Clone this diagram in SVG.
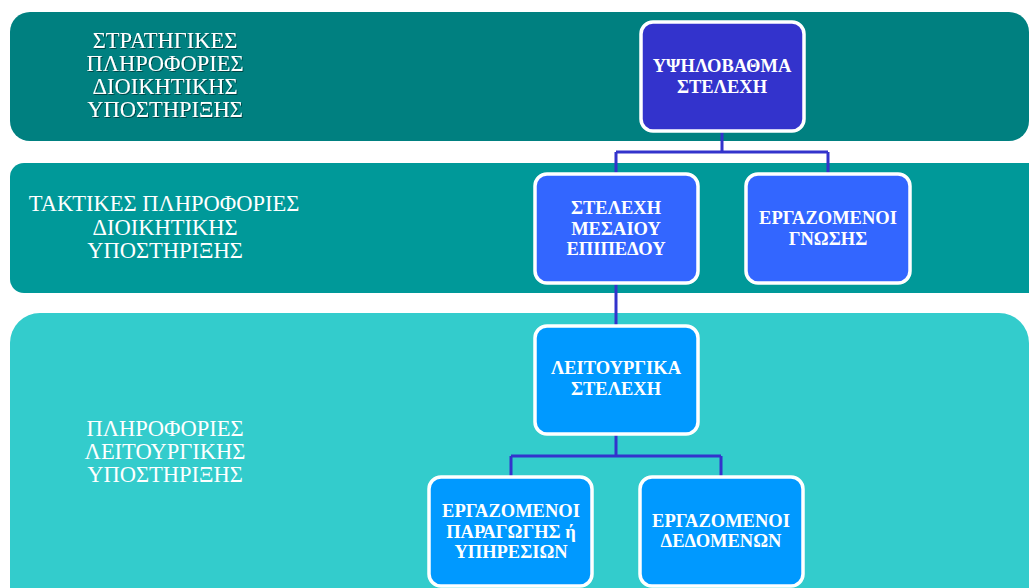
<svg xmlns="http://www.w3.org/2000/svg" width="1029" height="588" viewBox="0 0 1029 588">
<defs>
<style>
.band-text{font-family:"Liberation Serif","DejaVu Serif",serif;font-size:22.5px;fill:#ffffff;text-anchor:middle}
.node-text{font-family:"Liberation Serif","DejaVu Serif",serif;font-size:18.5px;font-weight:bold;fill:#ffffff;text-anchor:middle}
.node{stroke:#ffffff;stroke-width:3.5}
.conn{fill:none;stroke:#3333CC;stroke-width:3}
</style>
<filter id="sh" x="-10%" y="-10%" width="120%" height="130%">
<feDropShadow dx="1" dy="1" stdDeviation="0.6" flood-color="#000000" flood-opacity="0.45"/>
</filter>
</defs>
<rect width="1029" height="588" fill="#ffffff"/>
<g id="band-strategic">
<rect x="10" y="12" width="1019" height="129" rx="20" fill="#008080"/>
<text class="band-text" filter="url(#sh)"><tspan x="165" y="48">ΣΤΡΑΤΗΓΙΚΕΣ</tspan><tspan x="165" y="71">ΠΛΗΡΟΦΟΡΙΕΣ</tspan><tspan x="165" y="94">ΔΙΟΙΚΗΤΙΚΗΣ</tspan><tspan x="165" y="117">ΥΠΟΣΤΗΡΙΞΗΣ</tspan></text>
</g>
<g id="band-tactical">
<rect x="10" y="163" width="1040" height="130" rx="14" fill="#009999"/>
<text class="band-text"><tspan x="164" y="211">ΤΑΚΤΙΚΕΣ ΠΛΗΡΟΦΟΡΙΕΣ</tspan><tspan x="165" y="234.5">ΔΙΟΙΚΗΤΙΚΗΣ</tspan><tspan x="165" y="258">ΥΠΟΣΤΗΡΙΞΗΣ</tspan></text>
</g>
<g id="band-operational">
<rect x="10" y="313" width="1019" height="320" rx="30" fill="#33CCCC"/>
<text class="band-text"><tspan x="165" y="436">ΠΛΗΡΟΦΟΡΙΕΣ</tspan><tspan x="165" y="459">ΛΕΙΤΟΥΡΓΙΚΗΣ</tspan><tspan x="165" y="482">ΥΠΟΣΤΗΡΙΞΗΣ</tspan></text>
</g>
<g id="connectors">
<path class="conn" d="M722 131 V152 M616 152 H828 M616 152 V174 M828 152 V174"/>
<path class="conn" d="M616 283 V326"/>
<path class="conn" d="M616 434 V456 M511 456 H721 M511 456 V477 M721 456 V477"/>
</g>
<g id="node-top">
<rect class="node" x="641" y="22" width="163" height="109" rx="12" fill="#3333CC"/>
<text class="node-text"><tspan x="722" y="72">ΥΨΗΛΟΒΑΘΜΑ</tspan><tspan x="722" y="93">ΣΤΕΛΕΧΗ</tspan></text>
</g>
<g id="node-middle">
<rect class="node" x="535" y="174" width="163" height="109" rx="12" fill="#3366FF"/>
<text class="node-text"><tspan x="616" y="214">ΣΤΕΛΕΧΗ</tspan><tspan x="616" y="235">ΜΕΣΑΙΟΥ</tspan><tspan x="616" y="255">ΕΠΙΠΕΔΟΥ</tspan></text>
</g>
<g id="node-knowledge">
<rect class="node" x="746" y="174" width="164" height="109" rx="12" fill="#3366FF"/>
<text class="node-text"><tspan x="828" y="224">ΕΡΓΑΖΟΜΕΝΟΙ</tspan><tspan x="828" y="245">ΓΝΩΣΗΣ</tspan></text>
</g>
<g id="node-operational">
<rect class="node" x="535" y="326" width="163" height="108" rx="12" fill="#0099FF"/>
<text class="node-text"><tspan x="616" y="374">ΛΕΙΤΟΥΡΓΙΚΑ</tspan><tspan x="616" y="395">ΣΤΕΛΕΧΗ</tspan></text>
</g>
<g id="node-production">
<rect class="node" x="429" y="477" width="163" height="109" rx="12" fill="#0099FF"/>
<text class="node-text"><tspan x="511" y="517">ΕΡΓΑΖΟΜΕΝΟΙ</tspan><tspan x="511" y="538">ΠΑΡΑΓΩΓΗΣ ή</tspan><tspan x="511" y="558">ΥΠΗΡΕΣΙΩΝ</tspan></text>
</g>
<g id="node-data">
<rect class="node" x="640" y="477" width="163" height="109" rx="12" fill="#0099FF"/>
<text class="node-text"><tspan x="721" y="527">ΕΡΓΑΖΟΜΕΝΟΙ</tspan><tspan x="721" y="547">ΔΕΔΟΜΕΝΩΝ</tspan></text>
</g>
</svg>
